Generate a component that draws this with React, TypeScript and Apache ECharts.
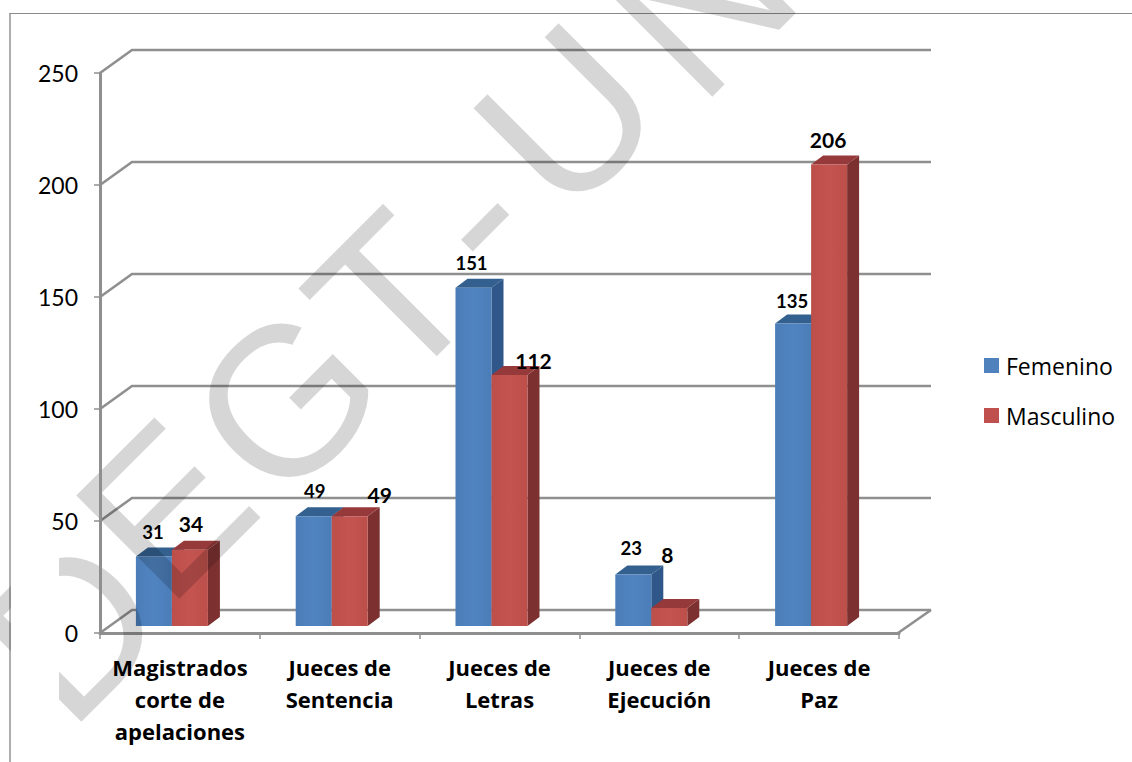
import React, { useEffect, useRef } from "react";
import * as echarts from "echarts";

const categories = ["Magistrados\ncorte de\napelaciones", "Jueces de\nSentencia", "Jueces de\nLetras", "Jueces de\nEjecución", "Jueces de\nPaz"];
const femenino = [31, 49, 151, 23, 135];
const masculino = [34, 49, 112, 8, 206];
const yTicks = [0, 50, 100, 150, 200, 250];
const watermarkPieces = ["D", "E", "G", "T", "-", "U", "NAH"];

// placement of each watermark piece (styling, not data)
const watermarkAt = [[-58, 607], [40, 484], [152, 384], [271, 268], [373, 165], [438, 96], [573, -18]];
// label offsets from the top-centre of the bar's front face (styling, not data)
const femLabelOffset = [[-1, -25], [1, -25], [-2, -25], [-2, -26], [-1, -23]];
const masLabelOffset = [[1, -26], [30, -22], [24, -15], [-2, -54], [-1, -25]];

const FONT = "Lato";
const WIDE = "Open Sans";
const GRID = "#8f8f8f";
const BAR_W = 36, DEPTH_X = 12, DEPTH_Y = 9, SHIFT_X = -8, SHIFT_Y = -7;
const BACK_X = 32, BACK_Y = 23;

function barRenderer(seriesIdx: number, face: string, faceLight: string, top: string, side: string, fontSize: number, offsets: number[][]) {
  return (_params: any, api: any) => {
    const cat = api.value(0), val = api.value(1);
    const [cx, yTop] = api.coord([cat, val]);
    const [, yBase] = api.coord([cat, 0]);
    const x0 = cx + SHIFT_X + (seriesIdx === 0 ? -BAR_W : 0);
    const x1 = x0 + BAR_W;
    const yt = yTop + SHIFT_Y, yb = yBase + SHIFT_Y;
    const off = offsets[cat];
    return {
      type: "group",
      children: [
        { type: "polygon", shape: { points: [[x1, yt], [x1 + DEPTH_X, yt - DEPTH_Y], [x1 + DEPTH_X, yb - DEPTH_Y], [x1, yb]] }, style: { fill: side } },
        { type: "polygon", shape: { points: [[x0, yt], [x0 + DEPTH_X, yt - DEPTH_Y], [x1 + DEPTH_X, yt - DEPTH_Y], [x1, yt]] }, style: { fill: top } },
        {
          type: "rect", shape: { x: x0, y: yt, width: BAR_W, height: yb - yt },
          style: { fill: new echarts.graphic.LinearGradient(0, 0, 1, 0, [{ offset: 0, color: face }, { offset: 0.5, color: faceLight }, { offset: 1, color: face }]) },
        },
        {
          type: "text", x: (x0 + x1) / 2 + off[0], y: yt + off[1],
          style: { text: String(val), fontFamily: FONT, fontWeight: "bold", fontSize, fill: "#000", align: "center", verticalAlign: "middle" },
        },
      ],
    };
  };
}

function wallRenderer(params: any, api: any) {
  const v = api.value(0);
  const [, y] = api.coord([0, v]);
  const cs = params.coordSys;
  const left = cs.x, right = cs.x + cs.width;
  const children: any[] = [
    { type: "polyline", shape: { points: [[left, y], [left + BACK_X, y - BACK_Y], [right + BACK_X, y - BACK_Y]] }, style: { stroke: GRID, lineWidth: 2.6, fill: "none" } },
  ];
  if (v === 0) {
    children.push({ type: "line", shape: { x1: right - 1, y1: y, x2: right + BACK_X, y2: y - BACK_Y }, style: { stroke: GRID, lineWidth: 2.6 } });
  }
  return { type: "group", children };
}

export default function App() {
  const ref = useRef<HTMLDivElement>(null);
  useEffect(() => {
    const chart = echarts.init(ref.current!, null, { renderer: "svg" });
    chart.setOption({
      animation: false,
      backgroundColor: "#fff",
      grid: { left: 100, top: 73, width: 799, height: 560 },
      legend: {
        data: ["Femenino", "Masculino"], orient: "vertical", left: 979, top: 349,
        itemWidth: 15, itemHeight: 15, itemGap: 27, icon: "rect",
        textStyle: { fontFamily: WIDE, fontSize: 23, color: "#000", padding: [0, 0, 0, 2] },
      },
      xAxis: {
        type: "category", data: categories,
        axisLine: { lineStyle: { color: GRID, width: 3 } },
        axisTick: { show: true, length: 6, lineStyle: { color: GRID, width: 1.5 } },
        axisLabel: { fontFamily: WIDE, fontWeight: "bold", fontSize: 22, color: "#000", lineHeight: 32, margin: 18, interval: 0 },
      },
      yAxis: {
        type: "value", min: 0, max: 250, interval: 50, z: 200,
        axisLine: { show: true, lineStyle: { color: GRID, width: 3 } },
        axisTick: { show: true, length: 6, lineStyle: { color: GRID, width: 1.5 } },
        splitLine: { show: false },
        axisLabel: { fontFamily: FONT, fontSize: 23, color: "#000", margin: 22 },
      },
      series: [
        { type: "custom", name: "walls", coordinateSystem: "cartesian2d", clip: false, silent: true, z: 1, data: yTicks.map((v) => [v]), encode: { y: 0 }, renderItem: wallRenderer },
        { type: "custom", name: "Femenino", coordinateSystem: "cartesian2d", clip: false, z: 2, itemStyle: { color: "#4F81BD" }, data: femenino.map((v, i) => [i, v]), encode: { x: 0, y: 1 }, renderItem: barRenderer(0, "#4B7DB8", "#5084C1", "#33608F", "#30578A", 18.5, femLabelOffset) },
        { type: "custom", name: "Masculino", coordinateSystem: "cartesian2d", clip: false, z: 3, itemStyle: { color: "#C0504D" }, data: masculino.map((v, i) => [i, v]), encode: { x: 0, y: 1 }, renderItem: barRenderer(1, "#BD4F4B", "#C35450", "#96393A", "#7C3130", 21, masLabelOffset) },
      ],
      graphic: [
        { type: "line", z: 0, silent: true, shape: { x1: 9, y1: 13.5, x2: 1132, y2: 13.5 }, style: { stroke: "#8a8a8a", lineWidth: 1.2 } },
        { type: "line", z: 0, silent: true, shape: { x1: 10, y1: 13, x2: 10, y2: 762 }, style: { stroke: "#9a9a9a", lineWidth: 1.6 } },
        ...watermarkPieces.map((t, i) => ({
          type: "text", z: 100, silent: true, x: watermarkAt[i][0], y: watermarkAt[i][1], rotation: Math.PI / 4,
          style: { text: t, fontFamily: "Liberation Sans", fontSize: 212, fill: "rgba(0,0,0,0.16)", textAlign: "left", textBaseline: "bottom" },
        })),
        { type: "rect", z: 150, silent: true, shape: { x: 11, y: 480, width: 48, height: 282 }, style: { fill: "#fff" } },
      ],
    });
    return () => chart.dispose();
  }, []);
  return <div ref={ref} style={{ position: "fixed", left: 0, top: 0, width: 1132, height: 762 }} />;
}
